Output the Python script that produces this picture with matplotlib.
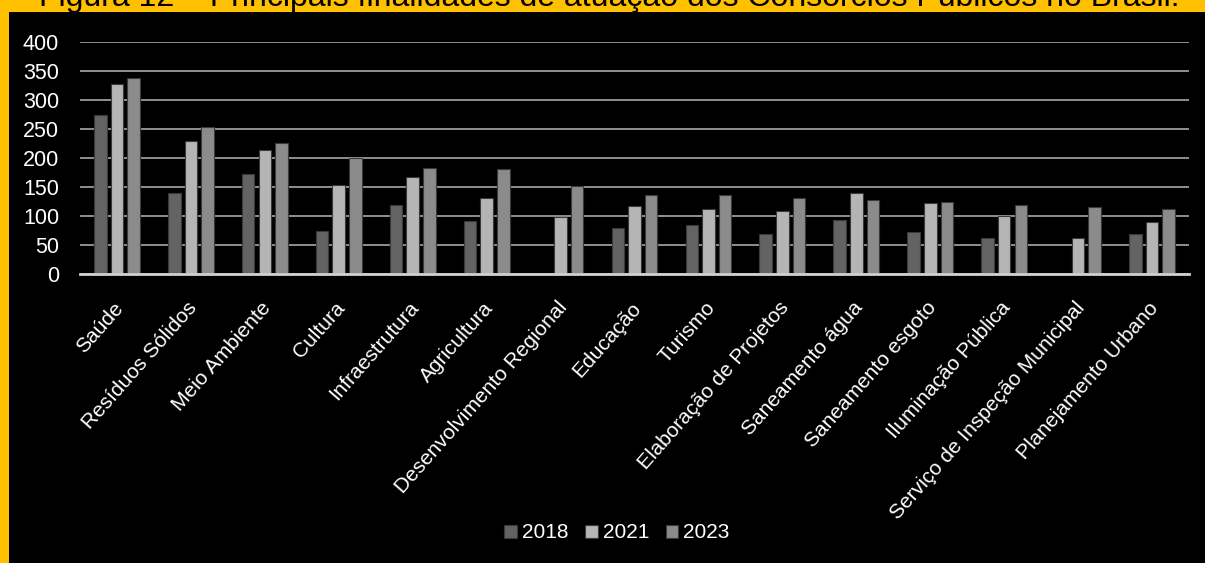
import matplotlib.pyplot as plt
import matplotlib.transforms as mtransforms
import numpy as np
from matplotlib.patches import Rectangle
from matplotlib import font_manager

# data
categorias = ["Saúde", "Resíduos Sólidos", "Meio Ambiente", "Cultura", "Infraestrutura",
              "Agricultura", "Desenvolvimento Regional", "Educação", "Turismo",
              "Elaboração de Projetos", "Saneamento água", "Saneamento esgoto",
              "Iluminação Pública", "Serviço de Inspeção Municipal", "Planejamento Urbano"]
anos = ["2018", "2021", "2023"]
v2018 = [274, 139, 172, 74, 119, 92, 0, 80, 84, 70, 93, 72, 62, 0, 70]
v2021 = [328, 230, 213, 154, 167, 132, 99, 117, 112, 109, 139, 123, 100, 63, 90]
v2023 = [337, 253, 225, 200, 183, 181, 151, 137, 137, 132, 128, 125, 120, 115, 112]
valores = [v2018, v2021, v2023]
cores = ["#636363", "#b5b5b5", "#8b8b8b"]

nomes = {f.name for f in font_manager.fontManager.ttflist}
fonte = "Liberation Sans Narrow" if "Liberation Sans Narrow" in nomes else "Liberation Sans"
plt.rcParams['font.family'] = [fonte, 'DejaVu Sans']

fig = plt.figure(figsize=(12.05, 5.63), dpi=100, facecolor="#FFC000")
fig.add_artist(Rectangle((9 / 1205, 0), 1, 1 - 12 / 563, transform=fig.transFigure,
                         facecolor="black", edgecolor="none", zorder=0))
fig.text(0.506, 1 - 6 / 563, "Figura 12 – Principais finalidades de atuação dos Consórcios Públicos no Brasil.",
         ha="center", va="baseline", fontsize=23, color="black")

ax = fig.add_axes([80 / 1205, 1 - 274.3 / 563, 1109 / 1205, 232.6 / 563])
ax.set_facecolor("black")

x = np.arange(len(categorias))
w = 0.17
for i, (ano, vals, c) in enumerate(zip(anos, valores, cores)):
    ax.bar(x + (i - 1) * 0.225, vals, w, color=c, edgecolor="#3a3a3a", linewidth=0.8,
           label=ano, zorder=3)

ax.set_xlim(-0.5, len(categorias) - 0.5)
ax.set_ylim(0, 400)
ax.set_yticks(range(0, 401, 50))
ax.yaxis.grid(True, color="#9a9a9a", linewidth=1.3, zorder=1)
ax.set_axisbelow(True)
for s in ["top", "right", "left"]:
    ax.spines[s].set_visible(False)
ax.spines["bottom"].set_color("#d0d0d0")
ax.spines["bottom"].set_linewidth(2)
ax.spines["bottom"].set_zorder(4)

ax.tick_params(axis="y", length=0, pad=15, labelsize=15.5, labelcolor="white")
ax.tick_params(axis="x", length=0, pad=0, labelsize=15, labelcolor="white")
ax.set_xticks(x)
ax.set_xticklabels(categorias, rotation=48.5, ha="right", va="top", rotation_mode="anchor")
desloc = mtransforms.ScaledTranslation(-4 / 100, -24 / 100, fig.dpi_scale_trans)
for lbl in ax.get_xticklabels():
    lbl.set_transform(lbl.get_transform() + desloc)

leg = fig.legend(loc="center", bbox_to_anchor=(617 / 1205, 1 - 533 / 563), ncol=3, frameon=False,
                 fontsize=15, labelcolor="white", handlelength=0.6, handleheight=0.6,
                 handletextpad=0.25, columnspacing=0.8)

fig.savefig("out.png", dpi=100, facecolor=fig.get_facecolor())
